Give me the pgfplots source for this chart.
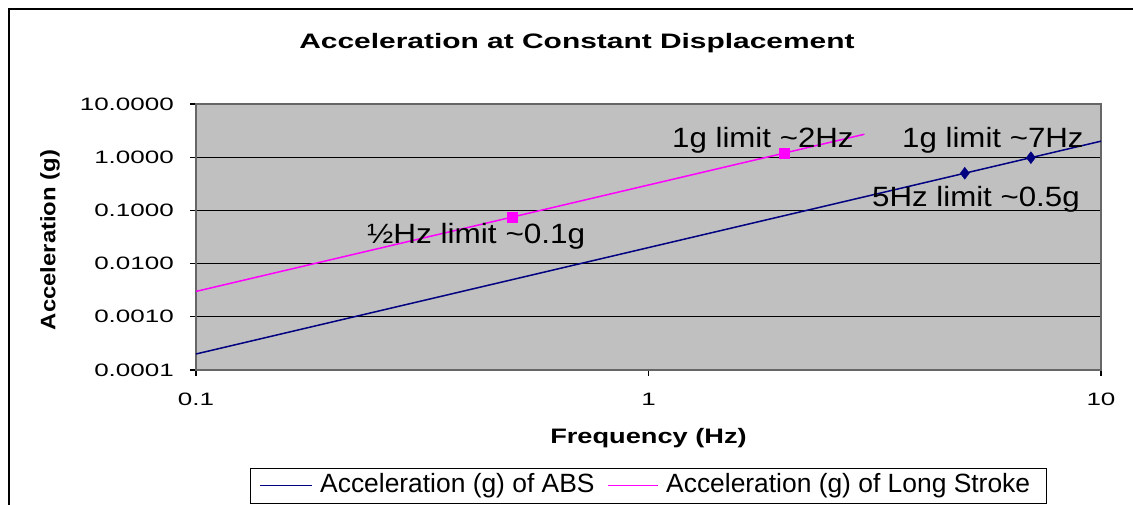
\documentclass[border=0pt]{standalone}
\usepackage{pgfplots}
\pgfplotsset{compat=1.18}
\usepackage{fontspec}
\setmainfont{Liberation Sans}
\definecolor{navy}{RGB}{0,0,128}
\definecolor{mag}{RGB}{255,0,255}
\definecolor{silver}{RGB}{192,192,192}
\newcommand{\sx}[2]{\scalebox{#1}[1]{#2}}
\begin{document}
\begin{tikzpicture}
\useasboundingbox (-196bp,-135bp) rectangle (937bp,370bp);
\fill[white] (-196bp,-135bp) rectangle (937bp,370bp);
\draw[black, line width=2bp] (-187bp,-136bp) -- (-187bp,361bp) -- (938bp,361bp);
\begin{axis}[
  at={(0,0)}, anchor=south west,
  scale only axis, width=905bp, height=266bp,
  xmode=log, ymode=log,
  xmin=0.1, xmax=10, ymin=0.0001, ymax=10,
  axis background/.style={fill=silver},
  axis line style={draw=black!60, line width=1.5bp},
  xtick={0.1,1,10},
  xticklabels={\sx{1.45}{0.1},\sx{1.45}{1},\sx{1.45}{10}},
  ytick={0.0001,0.001,0.01,0.1,1,10},
  yticklabels={\sx{1.45}{0.0001},\sx{1.45}{0.0010},\sx{1.45}{0.0100},\sx{1.45}{0.1000},\sx{1.45}{1.0000},\sx{1.45}{10.0000}},
  tick align=outside, tick pos=left,
  major tick length=6bp, tick style={black, line width=1.2bp},
  minor tick length=0pt, minor tick style={draw=none},
  ymajorgrids, major grid style={black, line width=1.3bp},
  ticklabel style={font=\fontsize{18}{18}\selectfont},
  yticklabel style={anchor=east, inner sep=0pt, xshift=-16bp},
  xticklabel style={anchor=north, inner sep=0pt, yshift=-17bp},
]
\addplot[navy, line width=1.5bp] coordinates {
(0.1,0.0002) (0.15,0.00045) (0.2,0.0008) (0.25,0.00125) (0.3,0.0018)
(0.4,0.0032) (0.5,0.005) (0.6,0.0072) (0.7,0.0098) (0.8,0.0128)
(0.9,0.0162) (1,0.02) (1.25,0.03125) (1.5,0.045) (2,0.08)
(2.5,0.125) (3,0.18) (4,0.32) (5,0.5) (6,0.72) (7,0.98)
(8,1.28) (9,1.62) (10,2)};
\addplot[mag, line width=1.5bp] coordinates {
(0.1,0.003) (0.15,0.00675) (0.2,0.012) (0.25,0.01875) (0.3,0.027)
(0.4,0.048) (0.5,0.075) (0.6,0.108) (0.7,0.147) (0.8,0.192)
(0.9,0.243) (1,0.3) (1.25,0.46875) (1.5,0.675) (2,1.2)
(2.5,1.875) (3,2.7)};
\addplot[only marks, mark=square*, mark size=5bp, mag] coordinates {(0.5,0.075) (2,1.2)};
\addplot[only marks, mark=diamond*, mark size=6bp, navy] coordinates {(5,0.5) (7,0.98)};
\end{axis}
% legend
\draw[black, line width=1bp, fill=white] (54bp,-98bp) rectangle (850bp,-133bp);
\draw[navy, line width=1.5bp] (64bp,-115.5bp) -- (116bp,-115.5bp);
\node[anchor=west, inner sep=0pt, font=\fontsize{26.5}{26.5}\selectfont] at (124bp,-115.5bp) {Acceleration (g) of ABS};
\draw[mag, line width=1.5bp] (412bp,-115.5bp) -- (462bp,-115.5bp);
\node[anchor=west, inner sep=0pt, font=\fontsize{26.5}{26.5}\selectfont] at (470bp,-115.5bp) {Acceleration (g) of Long Stroke};
\node[anchor=base, font=\bfseries\fontsize{21}{21}\selectfont] at (381bp,321bp) {\sx{1.43}{Acceleration at Constant Displacement}};
\node[anchor=base, font=\bfseries\fontsize{21}{21}\selectfont] at (452.5bp,-73bp) {\sx{1.3}{Frequency (Hz)}};
\node[rotate=90, anchor=center, font=\bfseries\fontsize{21}{21}\selectfont] at (-146bp,130bp) {\sx{1.14}{Acceleration (g)}};
\begin{scope}[every node/.style={anchor=base west, inner sep=0pt, font=\fontsize{28}{28}\selectfont}]
\node at (476bp,222bp) {\sx{1.12}{1g limit \textasciitilde2Hz}};
\node at (706bp,222bp) {\sx{1.12}{1g limit \textasciitilde7Hz}};
\node at (676bp,163bp) {\sx{1.12}{5Hz limit \textasciitilde0.5g}};
\node at (171bp,126bp) {\sx{1.13}{½Hz limit \textasciitilde0.1g}};
\end{scope}
\end{tikzpicture}
\end{document}
